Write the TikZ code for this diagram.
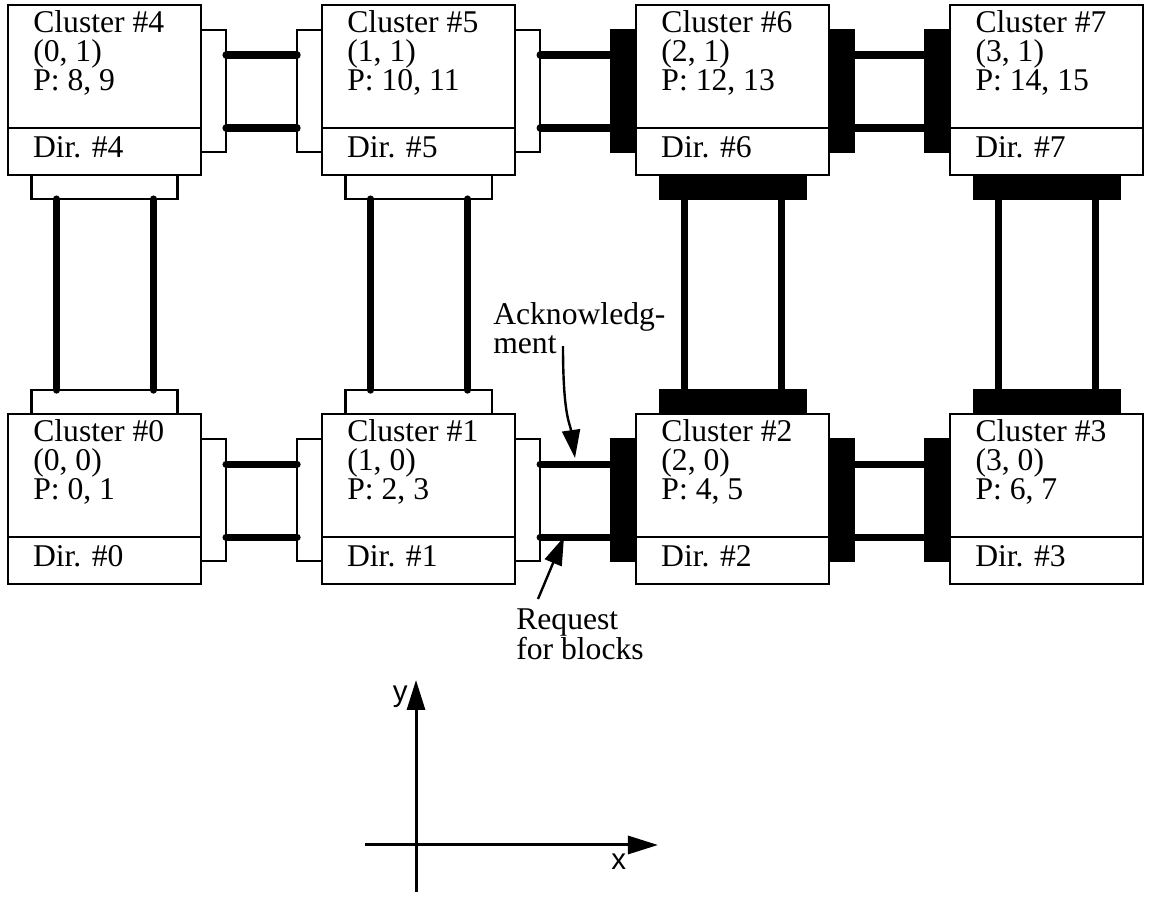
\documentclass[tikz,border=0pt]{standalone}
\usepackage{fontspec}
\setmainfont{Liberation Serif}
\setsansfont{Liberation Sans}
\usetikzlibrary{arrows.meta, positioning}
\newcommand{\clfont}{\fontsize{22.5}{20.8}\selectfont}
\frenchspacing

\begin{document}
\begin{tikzpicture}[
        x=0.025cm, y=0.025cm,
        % Styles
        cluster/.style={rectangle, draw, line width=0.055cm, outer sep=0pt, inner sep=0pt,
                       minimum width=4.825cm, minimum height=3.075cm},
        dirbox/.style={rectangle, draw, line width=0.055cm, outer sep=0pt, inner xsep=0.625cm,
                      minimum width=4.825cm, minimum height=1.175cm, text width=3.575cm,
                      text height=0.45cm, text depth=0.175cm, align=left, font=\clfont},
        ctext/.style={inner sep=0pt, align=left, font=\clfont},
        hport/.style={rectangle, draw, line width=0.055cm, outer sep=0pt, inner sep=0pt, fill=white,
                     minimum width=0.625cm, minimum height=3.05cm},
        vport/.style={rectangle, draw, line width=0.055cm, outer sep=0pt, inner sep=0pt, fill=white,
                     minimum width=3.65cm, minimum height=0.6cm},
        blk/.style={fill=black},
        link/.style={line width=0.18cm, line cap=round},
        pointer/.style={line width=0.06cm, -{Triangle[length=0.7cm, width=0.45cm]}},
        axis/.style={line width=0.075cm, -{Triangle[length=0.75cm, width=0.45cm]}},
        axlabel/.style={inner sep=0pt, font=\sffamily\fontsize{21}{21}\selectfont},
    ]
    \useasboundingbox (0,0) rectangle (1153,899);

    % Clusters, upper row
    \node[cluster, anchor=north west] (c4) at (8,894) {};
    \node[cluster, right=3.025cm of c4] (c5) {};
    \node[cluster, right=3.025cm of c5] (c6) {};
    \node[cluster, right=3.025cm of c6] (c7) {};
    \node[dirbox, below=0pt of c4] (d4) {Dir. \#4};
    \node[dirbox, below=0pt of c5] (d5) {Dir. \#5};
    \node[dirbox, below=0pt of c6] (d6) {Dir. \#6};
    \node[dirbox, below=0pt of c7] (d7) {Dir. \#7};

    % Clusters, lower row
    \node[cluster, below=5.975cm of d4] (c0) {};
    \node[cluster, right=3.025cm of c0] (c1) {};
    \node[cluster, right=3.025cm of c1] (c2) {};
    \node[cluster, right=3.025cm of c2] (c3) {};
    \node[dirbox, below=0pt of c0] (d0) {Dir. \#0};
    \node[dirbox, below=0pt of c1] (d1) {Dir. \#1};
    \node[dirbox, below=0pt of c2] (d2) {Dir. \#2};
    \node[dirbox, below=0pt of c3] (d3) {Dir. \#3};

    % Cluster labels
    \node[ctext, below right=0.12cm and 0.625cm of c4.north west] (t4) {Cluster \#4\\(0, 1)\\P: 8, 9};
    \node[ctext, below right=0.12cm and 0.625cm of c5.north west] (t5) {Cluster \#5\\(1, 1)\\P: 10, 11};
    \node[ctext, below right=0.12cm and 0.625cm of c6.north west] (t6) {Cluster \#6\\(2, 1)\\P: 12, 13};
    \node[ctext, below right=0.12cm and 0.625cm of c7.north west] (t7) {Cluster \#7\\(3, 1)\\P: 14, 15};
    \node[ctext, below right=0.12cm and 0.625cm of c0.north west] (t0) {Cluster \#0\\(0, 0)\\P: 0, 1};
    \node[ctext, below right=0.12cm and 0.625cm of c1.north west] (t1) {Cluster \#1\\(1, 0)\\P: 2, 3};
    \node[ctext, below right=0.12cm and 0.625cm of c2.north west] (t2) {Cluster \#2\\(2, 0)\\P: 4, 5};
    \node[ctext, below right=0.12cm and 0.625cm of c3.north west] (t3) {Cluster \#3\\(3, 0)\\P: 6, 7};

    % Ports in x direction
    \node[hport, below right=0.625cm and 0pt of c4.north east] (p4e) {};
    \node[hport, below left=0.625cm and 0pt of c5.north west] (p5w) {};
    \node[hport, below right=0.625cm and 0pt of c5.north east] (p5e) {};
    \node[hport, blk, below left=0.625cm and 0pt of c6.north west] (p6w) {};
    \node[hport, blk, below right=0.625cm and 0pt of c6.north east] (p6e) {};
    \node[hport, blk, below left=0.625cm and 0pt of c7.north west] (p7w) {};
    \node[hport, below right=0.625cm and 0pt of c0.north east] (p0e) {};
    \node[hport, below left=0.625cm and 0pt of c1.north west] (p1w) {};
    \node[hport, below right=0.625cm and 0pt of c1.north east] (p1e) {};
    \node[hport, blk, below left=0.625cm and 0pt of c2.north west] (p2w) {};
    \node[hport, blk, below right=0.625cm and 0pt of c2.north east] (p2e) {};
    \node[hport, blk, below left=0.625cm and 0pt of c3.north west] (p3w) {};

    % Ports in y direction
    \node[vport, below=0pt of d4] (p4s) {};
    \node[vport, below=0pt of d5] (p5s) {};
    \node[vport, blk, below=0pt of d6] (p6s) {};
    \node[vport, blk, below=0pt of d7] (p7s) {};
    \node[vport, above=0pt of c0] (p0n) {};
    \node[vport, above=0pt of c1] (p1n) {};
    \node[vport, blk, above=0pt of c2] (p2n) {};
    \node[vport, blk, above=0pt of c3] (p3n) {};

    % Links in x direction
    \draw[link] ([yshift=-0.625cm]p4e.north east) -- ([yshift=-0.625cm]p5w.north west);
    \draw[link] ([yshift=0.6cm]p4e.south east) -- ([yshift=0.6cm]p5w.south west);
    \draw[link] ([yshift=-0.625cm]p5e.north east) -- ([yshift=-0.625cm]p6w.north west);
    \draw[link] ([yshift=0.6cm]p5e.south east) -- ([yshift=0.6cm]p6w.south west);
    \draw[link] ([yshift=-0.625cm]p6e.north east) -- ([yshift=-0.625cm]p7w.north west);
    \draw[link] ([yshift=0.6cm]p6e.south east) -- ([yshift=0.6cm]p7w.south west);
    \draw[link] ([yshift=-0.625cm]p0e.north east) -- ([yshift=-0.625cm]p1w.north west);
    \draw[link] ([yshift=0.6cm]p0e.south east) -- ([yshift=0.6cm]p1w.south west);
    \draw[link] ([yshift=-0.625cm]p1e.north east) -- ([yshift=-0.625cm]p2w.north west);
    \draw[link] ([yshift=0.6cm]p1e.south east) -- ([yshift=0.6cm]p2w.south west);
    \draw[link] ([yshift=-0.625cm]p2e.north east) -- ([yshift=-0.625cm]p3w.north west);
    \draw[link] ([yshift=0.6cm]p2e.south east) -- ([yshift=0.6cm]p3w.south west);

    % Links in y direction
    \draw[link] ([xshift=0.625cm]p4s.south west) -- ([xshift=0.625cm]p0n.north west);
    \draw[link] ([xshift=-0.6cm]p4s.south east) -- ([xshift=-0.6cm]p0n.north east);
    \draw[link] ([xshift=0.625cm]p5s.south west) -- ([xshift=0.625cm]p1n.north west);
    \draw[link] ([xshift=-0.6cm]p5s.south east) -- ([xshift=-0.6cm]p1n.north east);
    \draw[link] ([xshift=0.625cm]p6s.south west) -- ([xshift=0.625cm]p2n.north west);
    \draw[link] ([xshift=-0.6cm]p6s.south east) -- ([xshift=-0.6cm]p2n.north east);
    \draw[link] ([xshift=0.625cm]p7s.south west) -- ([xshift=0.625cm]p3n.north west);
    \draw[link] ([xshift=-0.6cm]p7s.south east) -- ([xshift=-0.6cm]p3n.north east);

    % Message labels
    \node[ctext, anchor=north west] (ack) at (493,597) {Acknowledg-\\ment};
    \coordinate (acktip) at (575,441);
    \draw[pointer] ([shift={(70,8)}]ack.south west) .. controls +(0,-70) and +(-5,35) .. (acktip);
    \node[ctext, anchor=north west] (req) at (516,290) {Request\\for blocks};
    \coordinate (reqtip) at (564,362);
    \draw[pointer] ([shift={(22,10)}]req.north west) -- (reqtip);

    % Axes
    \coordinate (ybot) at (416,7);
    \coordinate (ytop) at (416,219);
    \coordinate (xleft) at (365,54);
    \coordinate (xright) at (658,54);
    \draw[axis] (ybot) -- (ytop);
    \draw[axis] (xleft) -- (xright);
    \node[axlabel, anchor=base east] (ylab) at (408,197) {y};
    \node[axlabel, anchor=base west] (xlab) at (611,29) {x};

\end{tikzpicture}
\end{document}
